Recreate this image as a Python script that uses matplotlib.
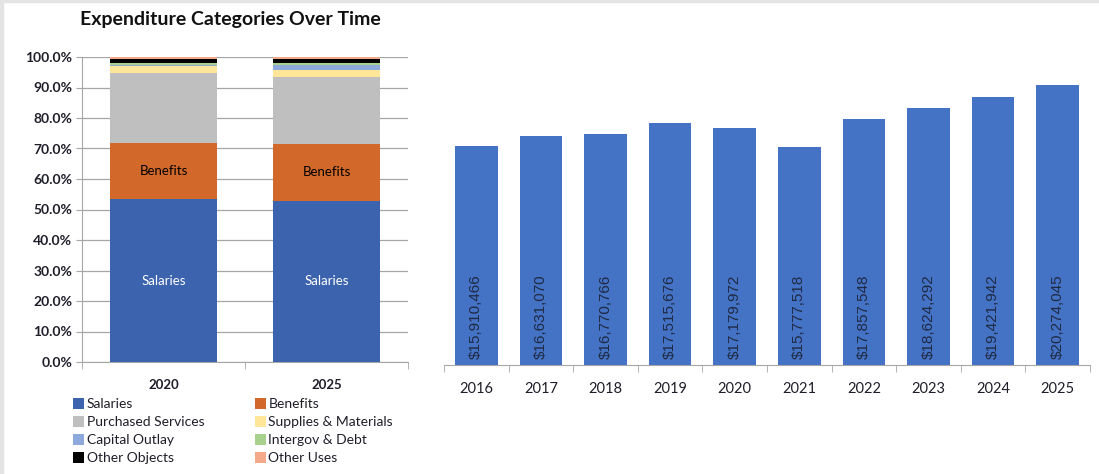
import matplotlib
matplotlib.use("Agg")
import matplotlib.pyplot as plt
import matplotlib.patches as patch
import numpy as np

plt.rcParams['font.family'] = ['Lato', 'DejaVu Sans']

# stacked share chart
periods = ["2020", "2025"]
categories = ["Salaries", "Benefits", "Purchased Services", "Supplies & Materials",
              "Capital Outlay", "Intergov & Debt", "Other Objects", "Other Uses"]
share_2020 = [53.4, 18.5, 22.7, 2.4, 0.3, 0.7, 1.4, 0.6]
share_2025 = [52.8, 18.8, 21.9, 2.1, 1.7, 0.7, 1.4, 0.6]
colors = ["#3C63AD", "#D2692A", "#BFBFBF", "#FFE699",
          "#8EA9DB", "#A9D18E", "#000000", "#F4A98A"]
seg_labels = {"Salaries": "white", "Benefits": "black"}

# totals chart
years = ["2016", "2017", "2018", "2019", "2020", "2021", "2022", "2023", "2024", "2025"]
totals = [15910466, 16631070, 16770766, 17515676, 17179972,
          15777518, 17857548, 18624292, 19421942, 20274045]

W, H = 1099, 474
fig = plt.figure(figsize=(W / 100, H / 100), dpi=100)
fig.patch.set_facecolor("white")
# light grey frame edges seen on the left / top of the original
fig.patches.append(patch.Rectangle((0, 0), 3 / W, 1, transform=fig.transFigure,
                                   color="#e4e4e4", zorder=0))
fig.patches.append(patch.Rectangle((0, 1 - 1.5 / H), 1, 1.5 / H, transform=fig.transFigure,
                                   color="#e4e4e4", zorder=0))

def box(x0, y0, x1, y1):
    return [x0 / W, 1 - y1 / H, (x1 - x0) / W, (y1 - y0) / H]

grid_c = "#a6a6a6"
txt_c = "#1e1e2a"

# ---- left: stacked 100% bars
ax1 = fig.add_axes(box(82, 57, 408, 362))
data = np.array([share_2020, share_2025])
x = np.arange(len(periods))
bottom = np.zeros(len(periods))
for i, cat in enumerate(categories):
    ax1.bar(x, data[:, i], bottom=bottom, width=0.66, color=colors[i],
            label=cat, zorder=3)
    if cat in seg_labels:
        for j in range(len(periods)):
            ax1.text(x[j], bottom[j] + data[j, i] / 2, cat, ha="center", va="center",
                     fontsize=9.5, color=seg_labels[cat], zorder=4)
    bottom += data[:, i]

ax1.set_xlim(-0.5, len(periods) - 0.5)
ax1.set_ylim(0, 100)
ax1.set_yticks(np.arange(0, 101, 10))
ax1.set_yticklabels([f"{v:.1f}%" for v in np.arange(0, 101, 10)],
                    fontsize=10, fontweight="bold", color=txt_c)
ax1.yaxis.grid(True, color=grid_c, lw=0.9, zorder=0)
ax1.tick_params(axis="y", length=4, color=grid_c, pad=3)
ax1.set_xticks(x)
ax1.set_xticklabels(periods, fontsize=9.5, fontweight="bold", color=txt_c)
ax1.set_xticks([-0.5, 0.5, 1.5], minor=True)
ax1.tick_params(axis="x", which="major", length=0, pad=12)
ax1.tick_params(axis="x", which="minor", length=5, color=grid_c)
for s in ["top", "right"]:
    ax1.spines[s].set_visible(False)
for s in ["left", "bottom"]:
    ax1.spines[s].set_color(grid_c)

fig.text(230 / W, 1 - 20 / H, "Expenditure Categories Over Time", ha="center",
         va="center", fontsize=14, fontweight="bold", color="#111111")

handles, labels = ax1.get_legend_handles_labels()
order = [0, 2, 4, 6, 1, 3, 5, 7]
fig.legend([handles[k] for k in order], [labels[k] for k in order], ncol=2,
           loc="upper left", bbox_to_anchor=(73 / W, 1 - 398 / H), frameon=False,
           fontsize=10, handlelength=0.8, handleheight=0.8, handletextpad=0.2,
           labelspacing=0.42, columnspacing=3.6, borderaxespad=0, borderpad=0,
           labelcolor=txt_c)

# ---- right: totals per year
ax2 = fig.add_axes(box(444, 57, 1090, 365))
xr = np.arange(len(years))
ax2.bar(xr, totals, width=0.66, color="#4472C4", zorder=3)
for xi, v in zip(xr, totals):
    ax2.text(xi, 0.45e6, f"${v:,.0f}", rotation=90, ha="center", va="bottom",
             fontsize=11, color="#1f2a44", family=["Liberation Sans", "DejaVu Sans"],
             zorder=4)
ax2.set_xlim(-0.5, len(years) - 0.5)
ax2.set_ylim(0, 22.33e6)
ax2.set_yticks([])
ax2.set_xticks(xr)
ax2.set_xticklabels(years, fontsize=10.5, color=txt_c)
ax2.set_xticks(np.arange(-0.5, len(years)), minor=True)
ax2.tick_params(axis="x", which="major", length=0, pad=12)
ax2.tick_params(axis="x", which="minor", length=5, color=grid_c)
for s in ["top", "right", "left"]:
    ax2.spines[s].set_visible(False)
ax2.spines["bottom"].set_color(grid_c)

fig.savefig("out.png", dpi=100)
